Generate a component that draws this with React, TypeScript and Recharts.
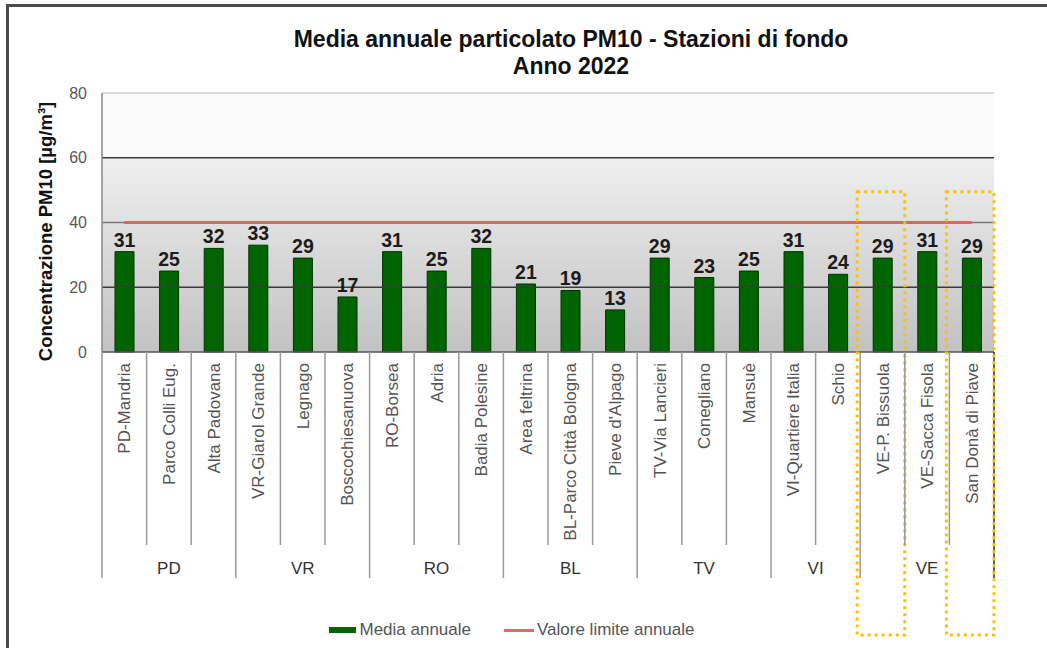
import React from "react";
import {
  Bar,
  ComposedChart,
  LabelList,
  Legend,
  Line,
  ReferenceArea,
  ReferenceLine,
  XAxis,
  YAxis,
} from "recharts";

const stations = [
  "PD-Mandria",
  "Parco Colli Eug.",
  "Alta Padovana",
  "VR-Giarol Grande",
  "Legnago",
  "Boscochiesanuova",
  "RO-Borsea",
  "Adria",
  "Badia Polesine",
  "Area feltrina",
  "BL-Parco Città Bologna",
  "Pieve d'Alpago",
  "TV-Via Lancieri",
  "Conegliano",
  "Mansuè",
  "VI-Quartiere Italia",
  "Schio",
  "VE-P. Bissuola",
  "VE-Sacca Fisola",
  "San Donà di Piave",
];
const annualMean = [31, 25, 32, 33, 29, 17, 31, 25, 32, 21, 19, 13, 29, 23, 25, 31, 24, 29, 31, 29];
const annualLimit = 40;
const provinces = ["PD", "VR", "RO", "BL", "TV", "VI", "VE"];
const provinceSizes = [3, 3, 3, 3, 3, 2, 3];
const highlighted = ["VE-P. Bissuola", "San Donà di Piave"];
const yTicks = [0, 20, 40, 60, 80];

const data = stations.map((name, i) => ({
  name,
  media: annualMean[i],
  limite: annualLimit,
}));

// first station index of each province
const provinceStart: number[] = [];
provinceSizes.reduce((acc, n) => {
  provinceStart.push(acc);
  return acc + n;
}, 0);

const W = 1047;
const H = 648;
const M = { top: 93, right: 53, left: 30, bottom: 7 };
const YW = 72;
const LEG_H = 22;
const PLOT_BOTTOM = 352;
const XH = H - M.bottom - LEG_H - PLOT_BOTTOM;
const PLOT_W = W - M.left - YW - M.right;
const PLOT_H = PLOT_BOTTOM - M.top;
const BW = PLOT_W / stations.length;
const FONT = "'Liberation Sans', Arial, sans-serif";

const StationTick = (props: any) => {
  const { x, y, payload } = props;
  const i = stations.indexOf(payload.value);
  const g = provinceStart.filter((s) => s <= i).length - 1;
  const isStart = provinceStart[g] === i;
  const left = x - BW / 2;
  const boxTop = M.top + (1 - 49.5 / 80) * PLOT_H;
  return (
    <g>
      <text
        x={x}
        y={y + 11}
        dy="0.36em"
        transform={`rotate(-90, ${x}, ${y + 11})`}
        textAnchor="end"
        fontSize={17}
        fontFamily={FONT}
        fill="#555"
      >
        {payload.value}
      </text>
      <line x1={left} x2={left} y1={y} y2={isStart ? y + 226 : y + 193} stroke="#999" strokeWidth={1.5} />
      {i === stations.length - 1 && (
        <line x1={x + BW / 2} x2={x + BW / 2} y1={y} y2={y + 226} stroke="#333" strokeWidth={1.5} />
      )}
      {isStart && (
        <text
          x={x + ((provinceSizes[g] - 1) / 2) * BW}
          y={y + 222}
          textAnchor="middle"
          fontSize={17}
          fontFamily={FONT}
          fill="#333"
        >
          {provinces[g]}
        </text>
      )}
      {highlighted.includes(payload.value) && (
        <rect
          x={left - 3}
          y={boxTop}
          width={BW + 3}
          height={635 - boxTop}
          fill="none"
          stroke="#ffc000"
          strokeWidth={3}
          strokeDasharray="3 4"
        />
      )}
    </g>
  );
};

const LegendBox = () => (
  <div
    style={{
      height: LEG_H,
      display: "flex",
      justifyContent: "center",
      alignItems: "center",
      fontFamily: FONT,
      fontSize: 17,
      color: "#555",
    }}
  >
    <span style={{ display: "inline-block", width: 27, height: 6, background: "#006400", marginRight: 3 }} />
    <span style={{ marginRight: 33 }}>Media annuale</span>
    <span style={{ display: "inline-block", width: 30, height: 3, background: "#f26262", marginRight: 3 }} />
    <span>Valore limite annuale</span>
  </div>
);

export default function App() {
  return (
    <div
      style={{
        position: "absolute",
        left: 0,
        top: 0,
        width: W,
        height: H,
        overflow: "hidden",
        background: "#fff",
      }}
    >
      <div
        style={{
          position: "absolute",
          left: 6,
          top: 4,
          width: W + 20,
          height: H - 6,
          borderLeft: "3px solid #4a4a4a",
          borderTop: "3px solid #4a4a4a",
          borderBottom: "1px solid #ddd",
        }}
      />
      <div
        style={{
          position: "absolute",
          left: 171,
          top: 26,
          width: 800,
          textAlign: "center",
          fontFamily: FONT,
          fontWeight: "bold",
          fontSize: 23,
          lineHeight: "27px",
          color: "#111",
        }}
      >
        Media annuale particolato PM10 - Stazioni di fondo
        <br />
        Anno 2022
      </div>
      <div style={{ position: "absolute", left: 0, top: 0 }}>
        <ComposedChart width={W} height={H} data={data} margin={M} barCategoryGap={0}>
          <defs>
            <linearGradient id="plotGrad" x1="0" y1="0" x2="0" y2="1">
              <stop offset="0%" stopColor="#efefef" />
              <stop offset="100%" stopColor="#c2c2c2" />
            </linearGradient>
          </defs>
          <ReferenceArea y1={60} y2={80} fill="#fbfbfb" fillOpacity={1} stroke="none" />
          <ReferenceArea y1={0} y2={60} fill="url(#plotGrad)" fillOpacity={1} stroke="none" />
          <ReferenceLine y={80} stroke="#cfcfcf" strokeWidth={1.5} />
          <ReferenceLine y={60} stroke="#3a3a3a" strokeWidth={1.5} />
          <ReferenceLine y={40} stroke="#777" strokeWidth={1.5} />
          <ReferenceLine y={20} stroke="#3a3a3a" strokeWidth={1.5} />
          <XAxis
            dataKey="name"
            type="category"
            interval={0}
            height={XH}
            tickSize={0}
            tickMargin={0}
            tickLine={false}
            axisLine={{ stroke: "#555", strokeWidth: 1.5 }}
            tick={<StationTick />}
          />
          <YAxis
            domain={[0, 80]}
            ticks={yTicks}
            width={YW}
            tickSize={0}
            tickMargin={15}
            tickLine={false}
            axisLine={{ stroke: "#888", strokeWidth: 1.5 }}
            tick={{ fontSize: 16, fill: "#595959", fontFamily: FONT }}
            label={{
              value: "Concentrazione  PM10 [µg/m³]",
              angle: -90,
              position: "insideLeft",
              dx: 10,
              dy: 9,
              style: { textAnchor: "middle", fontSize: 18.5, fontWeight: "bold", fill: "#111", fontFamily: FONT },
            }}
          />
          <YAxis
            yAxisId="frame"
            orientation="right"
            width={0}
            domain={[0, 80]}
            tick={false}
            tickLine={false}
            axisLine={{ stroke: "#c4c4c4", strokeWidth: 1.5 }}
          />
          <Bar
            dataKey="media"
            name="Media annuale"
            fill="#006400"
            stroke="#003300"
            strokeWidth={1}
            barSize={19}
            isAnimationActive={false}
          >
            <LabelList
              dataKey="media"
              position="top"
              offset={5}
              style={{ fontSize: 19.5, fontWeight: "bold", fill: "#1c1c1c", fontFamily: FONT }}
            />
          </Bar>
          <Line
            dataKey="limite"
            name="Valore limite annuale"
            stroke="#f25c5c"
            strokeWidth={3}
            dot={false}
            activeDot={false}
            isAnimationActive={false}
          />
          <Legend verticalAlign="bottom" height={LEG_H} content={<LegendBox />} />
        </ComposedChart>
      </div>
    </div>
  );
}
